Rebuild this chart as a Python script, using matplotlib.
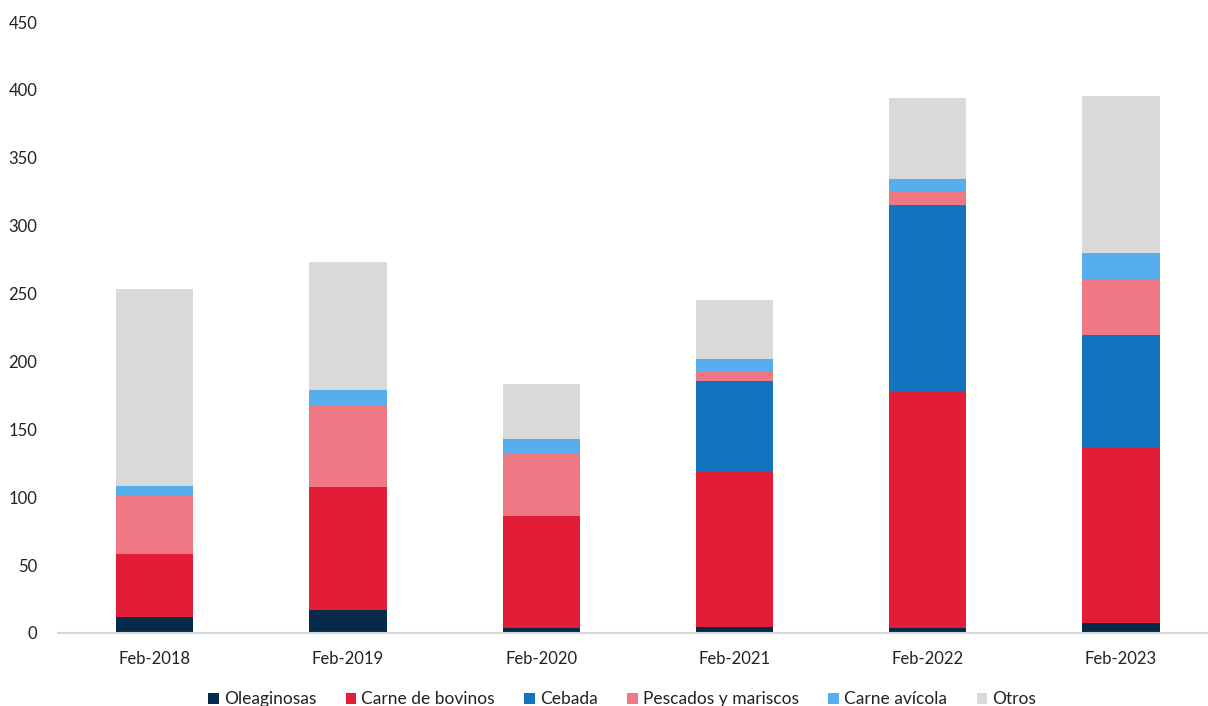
import numpy as np
import matplotlib
matplotlib.use('Agg')
from matplotlib import pyplot as plt

plt.rcParams['font.family'] = ['Lato', 'DejaVu Sans']

periods = ['Feb-2018', 'Feb-2019', 'Feb-2020', 'Feb-2021', 'Feb-2022', 'Feb-2023']
series_names = ['Oleaginosas', 'Carne de bovinos', 'Cebada', 'Pescados y mariscos', 'Carne avícola', 'Otros']

oleaginosas = [12, 17, 4, 4.5, 4, 7.5]
carne_bovinos = [46, 90.5, 82, 115, 173.5, 129]
cebada = [0, 0, 0, 66, 138, 83]
pescados = [43, 60.5, 46, 7, 9.5, 41.5]
carne_avicola = [7.5, 11, 11, 9.5, 9.7, 19]
otros = [145, 94, 40.5, 43, 59.5, 115.5]

colors = ['#062B4A', '#E31D38', '#1273BE', '#EF7885', '#56AEEE', '#D9D9D9']


def plot_stacked():
    fig = plt.figure(figsize=(12.08, 7.06), dpi=100)
    ax = fig.add_axes([0.048, 0.1034, 0.952, 0.8654])

    data = [oleaginosas, carne_bovinos, cebada, pescados, carne_avicola, otros]
    x = np.arange(len(periods))
    bottom = np.zeros(len(periods))
    for values, name, color in zip(data, series_names, colors):
        ax.bar(x, values, width=0.4, bottom=bottom, color=color, label=name)
        bottom += np.array(values)

    ax.set_xlim(-0.5, 5.45)
    ax.set_ylim(0, 450)
    ax.set_yticks(range(0, 451, 50))
    ax.set_xticks(x)
    ax.set_xticklabels(periods)

    for side in ['top', 'right', 'left']:
        ax.spines[side].set_visible(False)
    ax.spines['bottom'].set_color('#D9D9D9')
    ax.spines['bottom'].set_linewidth(1.5)
    ax.tick_params(axis='both', length=0, labelsize=12, colors='#222222')
    ax.tick_params(axis='y', pad=15)
    ax.tick_params(axis='x', pad=13)

    handles, labels = ax.get_legend_handles_labels()
    fig.legend(handles, labels, loc='lower center', bbox_to_anchor=(0.515, -0.024),
               ncol=6, frameon=False, fontsize=12.5, handlelength=0.6, handleheight=0.6,
               handletextpad=0.3, columnspacing=1.7, labelcolor='#222222')

    fig.savefig('out.png', dpi=100)


if __name__ == '__main__':
    plot_stacked()
